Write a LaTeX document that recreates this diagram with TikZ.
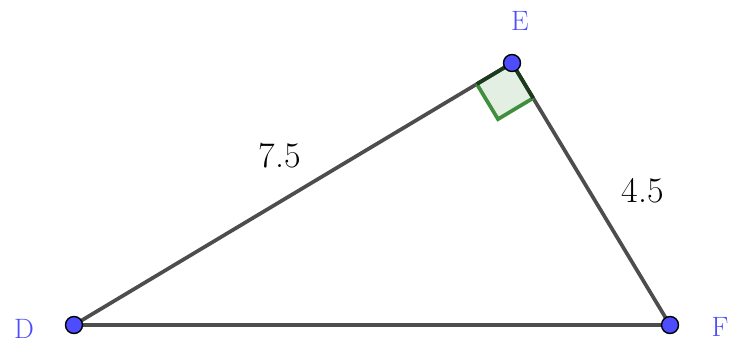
\documentclass[tikz,border=0pt]{standalone}
\usepackage{fontspec}
\usetikzlibrary{calc}
\definecolor{edgegray}{HTML}{4D4D4D}
\definecolor{ptblue}{HTML}{4D4DFF}
\definecolor{lblblue}{HTML}{4D4DFF}
\definecolor{sqfill}{HTML}{E4EFE4}
\definecolor{sqgreen}{HTML}{3F8F3F}
\definecolor{sqdark}{HTML}{1C3A1C}
\begin{document}
\begin{tikzpicture}[x=1pt,y=-1pt,
  edge/.style={draw=edgegray,line width=3.7pt},
  pt/.style={circle,fill=ptblue,draw=black,line width=1.4pt,minimum size=17pt,inner sep=0pt},
  lbl/.style={text=lblblue,font=\fontsize{28}{28}\selectfont,inner sep=0pt},
  num/.style={text=black,font=\fontsize{36}{36}\selectfont,inner sep=0pt}]
\useasboundingbox (0,0) rectangle (730,345);
\coordinate (d) at (74,325);
\coordinate (e) at (512,63);
\coordinate (f) at (670,325);
\coordinate (s1) at ($(e)!41pt!(d)$);
\coordinate (s3) at ($(e)!41pt!(f)$);
\coordinate (s2) at ($(s1)+(s3)-(e)$);
\fill[sqfill] (e) -- (s1) -- (s2) -- (s3) -- cycle;
\draw[edge] (d) -- (e) -- (f) -- (d);
\draw[sqgreen,line width=3.7pt,line join=miter] (s1) -- (s2) -- (s3);
\draw[sqdark,line width=3.7pt] (s1) -- (e) -- (s3);
\node[pt] (D) at (d) {};
\node[pt] (E) at (e) {};
\node[pt] (F) at (f) {};
\node[lbl] (lD) at (24,329) {D};
\node[lbl] (lE) at (520,21) {E};
\node[lbl] (lF) at (720,327) {F};
\node[num] (n1) at (280,156) {7.5};
\node[num] (n2) at (643,191) {4.5};
\end{tikzpicture}
\end{document}
